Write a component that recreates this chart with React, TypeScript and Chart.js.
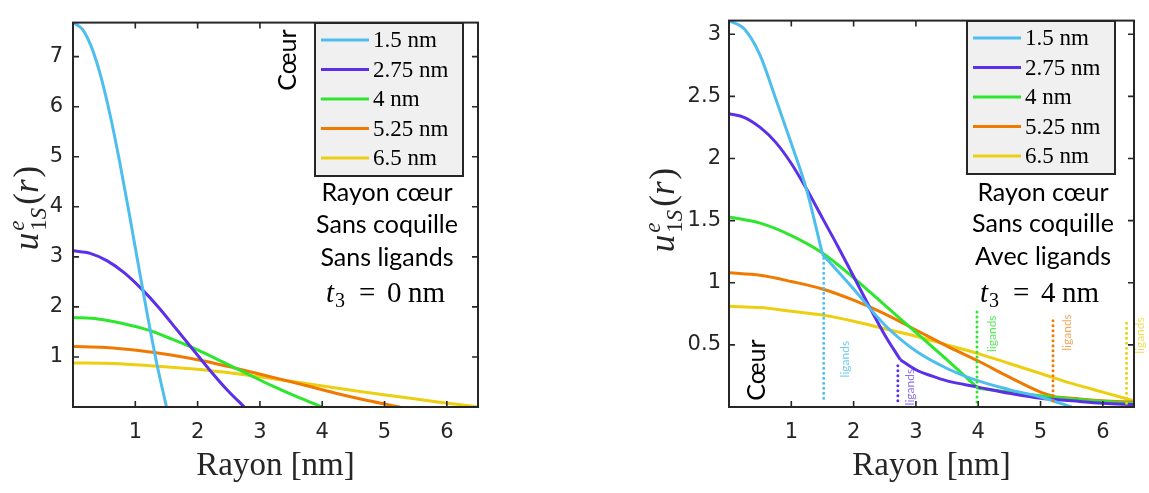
import React, { useEffect, useRef } from 'react';
import { Chart, registerables } from 'chart.js';

Chart.register(...registerables);

// ---------- data ----------
const seriesLabels = ['1.5 nm', '2.75 nm', '4 nm', '5.25 nm', '6.5 nm'];
const seriesColors = ['#4DBEEE', '#5B30E8', '#2EE62E', '#F07A00', '#EDCF12'];
const ligandTextColors = [
  'rgba(77,190,238,0.8)',
  'rgba(91,48,232,0.7)',
  'rgba(46,230,46,0.8)',
  'rgba(240,122,0,0.65)',
  'rgba(237,207,18,0.7)',
];

const xTicks = [1, 2, 3, 4, 5, 6];
const leftYTicks = [1, 2, 3, 4, 5, 6, 7];
const rightYTicks = [0.5, 1, 1.5, 2, 2.5, 3];

// Left panel (sans ligands)
const leftR15 = [0, 0.15, 0.3, 0.45, 0.6, 0.75, 0.9, 1.05, 1.2, 1.35, 1.5];
const leftU15 = [7.68, 7.55, 7.18, 6.59, 5.81, 4.89, 3.88, 2.83, 1.8, 0.84, 0];
const leftR275 = [0, 0.275, 0.55, 0.825, 1.1, 1.375, 1.65, 1.925, 2.2, 2.475, 2.75];
const leftU275 = [3.12, 3.07, 2.92, 2.68, 2.36, 1.99, 1.57, 1.15, 0.73, 0.34, 0];
const leftR4 = [0, 0.4, 0.8, 1.2, 1.6, 2.0, 2.4, 2.8, 3.2, 3.6, 4.0];
const leftU4 = [1.79, 1.76, 1.67, 1.54, 1.35, 1.14, 0.9, 0.66, 0.42, 0.2, 0];
const leftR525 = [0, 0.525, 1.05, 1.575, 2.1, 2.625, 3.15, 3.675, 4.2, 4.725, 5.25];
const leftU525 = [1.21, 1.19, 1.13, 1.04, 0.92, 0.77, 0.61, 0.45, 0.28, 0.13, 0];
const leftR65 = [0, 0.65, 1.3, 1.95, 2.6, 3.25, 3.9, 4.55, 5.2, 5.85, 6.5];
const leftU65 = [0.88, 0.87, 0.82, 0.76, 0.67, 0.56, 0.44, 0.32, 0.21, 0.1, 0];

// Right panel (avec ligands): core part and ligand-shell part
const rightCoreR15 = [0, 0.25, 0.5, 0.75, 1.0, 1.25, 1.5];
const rightCoreU15 = [3.11, 3.04, 2.83, 2.48, 2.12, 1.74, 1.23];
const rightShellR15 = [1.5, 2.0, 2.5, 3.0, 3.5, 4.0, 4.5, 5.0, 5.5];
const rightShellU15 = [1.23, 0.95, 0.66, 0.45, 0.31, 0.21, 0.14, 0.08, 0.0];

const rightCoreR275 = [0, 0.25, 0.5, 0.75, 1.0, 1.25, 1.5, 1.75, 2.0, 2.25, 2.5, 2.75];
const rightCoreU275 = [2.36, 2.33, 2.25, 2.13, 1.96, 1.75, 1.52, 1.29, 1.05, 0.81, 0.58, 0.38];
const rightShellR275 = [2.75, 3.0, 3.25, 3.5, 4.0, 4.5, 5.0, 5.5, 6.0, 6.5];
const rightShellU275 = [0.38, 0.3, 0.25, 0.21, 0.16, 0.11, 0.07, 0.05, 0.03, 0.02];

const rightCoreR4 = [0, 0.5, 1.0, 1.5, 2.0, 2.5, 3.0, 3.5, 4.0];
const rightCoreU4 = [1.53, 1.48, 1.38, 1.24, 1.04, 0.82, 0.6, 0.38, 0.15];
const rightShellR4 = [4.0, 4.5, 5.0, 5.5, 6.0, 6.5];
const rightShellU4 = [0.15, 0.12, 0.09, 0.065, 0.045, 0.03];

const rightCoreR525 = [0, 0.5, 1.0, 1.5, 2.0, 2.5, 3.0, 3.5, 4.0, 4.5, 5.0, 5.25];
const rightCoreU525 = [1.08, 1.06, 1.01, 0.95, 0.86, 0.75, 0.62, 0.49, 0.37, 0.24, 0.12, 0.08];
const rightShellR525 = [5.25, 5.5, 6.0, 6.5];
const rightShellU525 = [0.08, 0.07, 0.05, 0.04];

const rightR65 = [0, 0.5, 1.0, 1.5, 2.0, 2.5, 3.0, 3.5, 4.0, 4.5, 5.0, 5.5, 6.0, 6.5];
const rightU65 = [0.81, 0.8, 0.77, 0.74, 0.69, 0.63, 0.57, 0.5, 0.43, 0.35, 0.27, 0.19, 0.12, 0.05];

// Dotted "ligands" markers (right panel)
const ligandMarkR = [1.52, 2.71, 3.98, 5.2, 6.38];
const ligandMarkTop = [1.2, 0.34, 0.765, 0.71, 0.71];
const ligandMarkBottom = [0.07, 0.05, 0, 0.05, 0.03];
const ligandTextR = [1.87, 2.91, 4.23, 5.42, 6.6];
const ligandTextU = [0.385, 0.16, 0.59, 0.6, 0.575];

// ---------- helpers ----------
const AX = '#262626';
const SERIF = '"Liberation Serif", "DejaVu Serif", serif';
const SANS_TXT = 'Lato, "Open Sans", sans-serif';
const TICK_FONT = '"DejaVu Sans", "Liberation Sans", Arial, sans-serif';

const pts = (r: number[], u: number[]) => r.map((x, i) => ({ x, y: u[i] }));

const curve = (r: number[], u: number[], color: string) => ({
  data: pts(r, u),
  borderColor: color,
  backgroundColor: color,
  borderWidth: 3,
  pointRadius: 0,
  fill: false,
  cubicInterpolationMode: 'monotone',
});

const dotted = (i: number) => ({
  data: [
    { x: ligandMarkR[i], y: ligandMarkBottom[i] },
    { x: ligandMarkR[i], y: ligandMarkTop[i] },
  ],
  borderColor: seriesColors[i],
  borderWidth: 3,
  borderDash: [0, 5],
  borderCapStyle: 'round',
  pointRadius: 0,
  fill: false,
});

function drawYTitle(ctx: CanvasRenderingContext2D, bx: number, cy: number) {
  ctx.save();
  ctx.translate(bx, cy);
  ctx.rotate(-Math.PI / 2);
  ctx.fillStyle = AX;
  ctx.textBaseline = 'alphabetic';
  ctx.textAlign = 'left';
  const big = `italic 35px ${SERIF}`;
  const up = `35px ${SERIF}`;
  const small = `23px ${SERIF}`;
  const smallI = `italic 23px ${SERIF}`;
  ctx.font = big;
  const wu = ctx.measureText('u').width;
  const wr = ctx.measureText('r').width;
  ctx.font = smallI;
  const we = ctx.measureText('e').width;
  const wS = ctx.measureText('S').width;
  ctx.font = small;
  const w1 = ctx.measureText('1').width;
  ctx.font = up;
  const wp = ctx.measureText('(').width;
  const wp2 = ctx.measureText(')').width;
  const wSub = Math.max(we, w1 + wS);
  const total = wu + 2 + wSub + 3 + wp + wr + 2 + wp2;
  let x = -total / 2;
  ctx.font = big;
  ctx.fillText('u', x, 0);
  x += wu + 2;
  ctx.font = smallI;
  ctx.fillText('e', x, -14);
  ctx.font = small;
  ctx.fillText('1', x, 8);
  ctx.font = smallI;
  ctx.fillText('S', x + w1, 8);
  x += wSub + 3;
  ctx.font = up;
  ctx.fillText('(', x, 0);
  x += wp;
  ctx.font = big;
  ctx.fillText('r', x, 0);
  x += wr + 2;
  ctx.font = up;
  ctx.fillText(')', x, 0);
  ctx.restore();
}

function drawT3(ctx: CanvasRenderingContext2D, x0: number, base: number, digit: string) {
  ctx.save();
  ctx.fillStyle = '#000';
  ctx.textBaseline = 'alphabetic';
  ctx.textAlign = 'left';
  ctx.font = `italic 29px ${SERIF}`;
  ctx.fillText('t', x0, base);
  ctx.font = `20px ${SERIF}`;
  ctx.fillText('3', x0 + 9, base + 5);
  ctx.font = `29px ${SERIF}`;
  ctx.fillText('=', x0 + 33, base);
  ctx.fillText(digit, x0 + 61, base);
  ctx.fillText('nm', x0 + 82, base);
  ctx.restore();
}

function drawLegend(ctx: CanvasRenderingContext2D, bx: number, by: number, bw: number, bh: number) {
  ctx.save();
  ctx.fillStyle = '#F0F0F0';
  ctx.fillRect(bx, by, bw, bh);
  ctx.strokeStyle = AX;
  ctx.lineWidth = 2;
  ctx.strokeRect(bx, by, bw, bh);
  ctx.font = `23px ${SERIF}`;
  ctx.textBaseline = 'middle';
  ctx.textAlign = 'left';
  seriesLabels.forEach((lab, i) => {
    const y = by + 17 + i * 29.5;
    ctx.strokeStyle = seriesColors[i];
    ctx.lineWidth = 3;
    ctx.beginPath();
    ctx.moveTo(bx + 6, y);
    ctx.lineTo(bx + 54, y);
    ctx.stroke();
    ctx.fillStyle = '#000';
    ctx.fillText(lab, bx + 58, y + 1);
  });
  ctx.restore();
}

function drawCentered(ctx: CanvasRenderingContext2D, lines: string[], cx: number, ys: number[]) {
  ctx.save();
  ctx.fillStyle = '#000';
  ctx.font = `25px ${SANS_TXT}`;
  ctx.textAlign = 'center';
  ctx.textBaseline = 'middle';
  lines.forEach((t, i) => ctx.fillText(t, cx, ys[i]));
  ctx.restore();
}

function drawRotated(ctx: CanvasRenderingContext2D, text: string, cx: number, cy: number, font: string, color: string) {
  ctx.save();
  ctx.translate(cx, cy);
  ctx.rotate(-Math.PI / 2);
  ctx.font = font;
  ctx.fillStyle = color;
  ctx.textAlign = 'center';
  ctx.textBaseline = 'middle';
  ctx.fillText(text, 0, 0);
  ctx.restore();
}

function frameAndTicks(chart: any, yTicks: number[]) {
  const { ctx, chartArea: a, scales } = chart;
  const xs = scales.x;
  const ys = scales.y;
  ctx.save();
  ctx.strokeStyle = AX;
  ctx.lineWidth = 1.6;
  ctx.beginPath();
  xTicks.forEach((v) => {
    const p = xs.getPixelForValue(v);
    ctx.moveTo(p, a.bottom);
    ctx.lineTo(p, a.bottom - 6);
    ctx.moveTo(p, a.top);
    ctx.lineTo(p, a.top + 6);
  });
  yTicks.forEach((v) => {
    const p = ys.getPixelForValue(v);
    ctx.moveTo(a.left, p);
    ctx.lineTo(a.left + 6, p);
    ctx.moveTo(a.right, p);
    ctx.lineTo(a.right - 6, p);
  });
  ctx.stroke();
  ctx.lineWidth = 2;
  ctx.strokeRect(a.left, a.top, a.right - a.left, a.bottom - a.top);
  ctx.restore();
}

function drawXTitle(chart: any) {
  const { ctx, chartArea: a } = chart;
  ctx.save();
  ctx.fillStyle = AX;
  ctx.font = `33px ${SERIF}`;
  ctx.textAlign = 'center';
  ctx.textBaseline = 'middle';
  ctx.fillText('Rayon [nm]', (a.left + a.right) / 2, 466);
  ctx.restore();
}

// ---------- panel specs ----------
type Spec = {
  pageLeft: number;
  width: number;
  yAxisWidth: number;
  rightPad: number;
  yMax: number;
  yTicks: number[];
  yTickPad: number;
  datasets: any[];
  decorate: (chart: any, ox: number) => void;
};

const leftSpec: Spec = {
  pageLeft: 0,
  width: 574,
  yAxisWidth: 73,
  rightPad: 96,
  yMax: 7.68,
  yTicks: leftYTicks,
  yTickPad: 10,
  datasets: [
    curve(leftR15, leftU15, seriesColors[0]),
    curve(leftR275, leftU275, seriesColors[1]),
    curve(leftR4, leftU4, seriesColors[2]),
    curve(leftR525, leftU525, seriesColors[3]),
    curve(leftR65, leftU65, seriesColors[4]),
  ],
  decorate: (chart, ox) => {
    const ctx = chart.ctx;
    drawLegend(ctx, 315 - ox, 23, 148, 153);
    drawRotated(ctx, 'Cœur', 288 - ox, 60, `25px ${SANS_TXT}`, '#000');
    drawCentered(ctx, ['Rayon cœur', 'Sans coquille', 'Sans ligands'], 387 - ox, [193, 225, 258]);
    drawT3(ctx, 326 - ox, 302, '0');
    drawYTitle(ctx, 38 - ox, 208);
  },
};

const rightSpec: Spec = {
  pageLeft: 574,
  width: 575,
  yAxisWidth: 155,
  rightPad: 15,
  yMax: 3.11,
  yTicks: rightYTicks,
  yTickPad: 8,
  datasets: [
    ...[0, 1, 2, 3, 4].map((i) => dotted(i)),
    curve(rightCoreR15, rightCoreU15, seriesColors[0]),
    curve(rightShellR15, rightShellU15, seriesColors[0]),
    curve(rightCoreR275, rightCoreU275, seriesColors[1]),
    curve(rightShellR275, rightShellU275, seriesColors[1]),
    curve(rightCoreR4, rightCoreU4, seriesColors[2]),
    curve(rightShellR4, rightShellU4, seriesColors[2]),
    curve(rightCoreR525, rightCoreU525, seriesColors[3]),
    curve(rightShellR525, rightShellU525, seriesColors[3]),
    curve(rightR65, rightU65, seriesColors[4]),
  ],
  decorate: (chart, ox) => {
    const ctx = chart.ctx;
    const xs = chart.scales.x;
    const ys = chart.scales.y;
    drawLegend(ctx, 967 - ox, 21, 148, 153);
    drawRotated(ctx, 'Cœur', 757 - ox, 370, `25px ${SANS_TXT}`, '#000');
    drawCentered(ctx, ['Rayon cœur', 'Sans coquille', 'Avec ligands'], 1043 - ox, [193, 224, 257]);
    drawT3(ctx, 980 - ox, 302, '4');
    drawYTitle(ctx, 674 - ox, 210);
    ligandTextR.forEach((r, i) => {
      drawRotated(
        ctx,
        'ligands',
        xs.getPixelForValue(r),
        ys.getPixelForValue(ligandTextU[i]),
        `12px ${SANS_TXT}`,
        ligandTextColors[i]
      );
    });
  },
};

function buildConfig(spec: Spec): any {
  const deco = {
    id: 'deco',
    afterDraw(chart: any) {
      frameAndTicks(chart, spec.yTicks);
      drawXTitle(chart);
      spec.decorate(chart, spec.pageLeft);
    },
  };
  return {
    type: 'line',
    data: { datasets: spec.datasets },
    plugins: [deco],
    options: {
      animation: false,
      responsive: false,
      maintainAspectRatio: false,
      layout: { padding: { left: 0, right: spec.rightPad, top: 3, bottom: 0 } },
      plugins: { legend: { display: false }, tooltip: { enabled: false } },
      elements: { point: { radius: 0 } },
      scales: {
        x: {
          type: 'linear',
          min: 0,
          max: 6.5,
          afterBuildTicks: (s: any) => {
            s.ticks = xTicks.map((v) => ({ value: v }));
          },
          afterFit: (s: any) => {
            s.height = 86;
          },
          grid: { display: false, drawTicks: false },
          border: { display: false },
          ticks: {
            autoSkip: false,
            maxRotation: 0,
            padding: 13,
            color: AX,
            font: { family: TICK_FONT, size: 21 },
            callback: (v: any) => String(v),
          },
        },
        y: {
          type: 'linear',
          min: 0,
          max: spec.yMax,
          afterBuildTicks: (s: any) => {
            s.ticks = spec.yTicks.map((v) => ({ value: v }));
          },
          afterFit: (s: any) => {
            s.width = spec.yAxisWidth;
          },
          grid: { display: false, drawTicks: false },
          border: { display: false },
          ticks: {
            autoSkip: false,
            padding: spec.yTickPad,
            color: AX,
            font: { family: TICK_FONT, size: 21 },
            callback: (v: any) => String(v),
          },
        },
      },
    },
  };
}

function Panel({ spec }: { spec: Spec }) {
  const ref = useRef<HTMLCanvasElement | null>(null);
  useEffect(() => {
    if (!ref.current) return;
    const chart = new Chart(ref.current, buildConfig(spec));
    return () => chart.destroy();
  }, [spec]);
  return (
    <canvas
      ref={ref}
      width={spec.width}
      height={493}
      style={{ position: 'absolute', left: spec.pageLeft, top: 0, width: spec.width, height: 493, display: 'block' }}
    />
  );
}

export default function App() {
  return (
    <div style={{ position: 'absolute', left: 0, top: 0, width: 1149, height: 493, background: '#fff', overflow: 'hidden' }}>
      <Panel spec={leftSpec} />
      <Panel spec={rightSpec} />
    </div>
  );
}
